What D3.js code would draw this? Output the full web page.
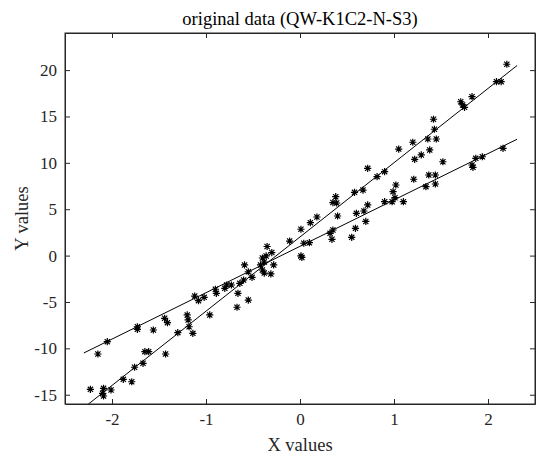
<!DOCTYPE html>
<html>
<head>
<meta charset="utf-8">
<script src="https://cdn.jsdelivr.net/npm/d3@7"></script>
<style>
  body { margin: 0; background: #fff; }
  svg { display: block; font-family: "Liberation Serif", "Times New Roman", serif; }
</style>
</head>
<body>
<div id="chart"></div>
<script>
// scatter points
const xs = [
  -2.23, -2.09, -2.10, -2.09, -2.01, -1.88, -1.79, -1.76, -1.67, -1.65,
  -1.61, -1.43, -2.15, -2.05, -1.73, -1.73, -1.56, -1.44, -1.41, -1.30,
  -1.20, -1.19, -1.18, -1.14, -0.96, -1.12, -1.08, -1.02, -0.90, -0.89,
  -0.80, -0.78, -0.73, -0.66, -0.67, -0.55, -0.64, -0.60, -0.51, -0.55,
  -0.59, -0.40, -0.38, -0.42, -0.40, -0.38, -0.36, -0.28, -0.31, -0.35,
  -0.30, -0.11, 0.01, 0.04, 0.10, 0.01, 0.02, 0.11, 0.18, 0.32,
  0.35, 0.34, 0.40, 0.38, 0.35, 0.39, 0.58, 0.67, 0.72, 0.60,
  0.68, 0.70, 0.59, 0.55, 2.20, 2.09, 2.14, 1.83, 1.71, 1.73,
  1.75, 1.42, 1.43, 1.36, 1.45, 1.20, 1.05, 1.38, 1.29, 1.22,
  1.52, 0.90, 0.82, 0.72, 2.16, 1.94, 1.87, 1.83, 1.84, 1.37,
  1.44, 1.21, 1.44, 1.34, 1.02, 0.99, 1.01, 0.98, 0.90, 1.10
];
const ys = [
  -14.42, -14.31, -14.85, -15.14, -14.49, -13.34, -13.60, -12.04, -11.61, -10.36,
  -10.36, -10.61, -10.61, -9.28, -7.67, -7.95, -8.02, -6.76, -7.23, -8.31,
  -6.40, -6.94, -7.67, -8.38, -6.40, -4.36, -4.86, -4.50, -3.63, -4.07,
  -3.53, -3.17, -3.17, -4.07, -5.57, -4.79, -2.99, -2.63, -2.34, -1.74,
  -1.01, -0.26, -0.69, -1.01, -1.55, -1.88, -0.04, -1.01, -1.98, 0.98,
  0.33, 1.57, 2.84, 1.33, 1.39, -0.04, -0.20, 3.55, 4.16, 2.40,
  2.76, 1.76, 4.27, 6.35, 5.72, 5.67, 6.82, 7.07, 5.46, 4.56,
  4.81, 3.68, 2.94, 1.97, 20.63, 18.75, 18.75, 17.13, 16.59, 16.24,
  15.99, 14.70, 13.62, 12.57, 12.57, 12.22, 11.49, 11.39, 10.85, 10.38,
  10.12, 9.05, 8.51, 9.41, 11.57, 10.66, 10.49, 9.77, 9.52, 8.69,
  8.69, 8.23, 7.72, 7.43, 7.61, 6.89, 6.24, 5.81, 5.81, 5.81
];
// fitted lines (end points)
const lineX = [-2.30, 2.31];
const lineSteepY = [-16.4, 20.5];
const lineFlatY = [-10.5, 12.55];

const xTicks = [-2, -1, 0, 1, 2];
const yTicks = [-15, -10, -5, 0, 5, 10, 15, 20];

const W = 536, H = 454;
const m = { left: 65, right: 1, top: 33, bottom: 50 };

const svg = d3.select("#chart").append("svg")
  .attr("width", W).attr("height", H);

const x = d3.scaleLinear().domain([-2.5, 2.5]).range([m.left, W - m.right]);
const y = d3.scaleLinear().domain([-16, 24]).range([H - m.bottom, m.top]);

svg.append("defs").append("clipPath").attr("id", "plot-clip")
  .append("rect")
  .attr("x", m.left).attr("y", m.top)
  .attr("width", W - m.right - m.left).attr("height", H - m.bottom - m.top);

const axisColor = "#262626";
const tickLen = 5;
const plain = d => String(d);   // plain hyphen, like the original

// bottom / left axes with labels
const gx = svg.append("g")
  .attr("transform", `translate(0,${H - m.bottom})`)
  .call(d3.axisBottom(x).tickValues(xTicks).tickSizeInner(-tickLen).tickSizeOuter(0).tickPadding(9)
    .tickFormat(plain));
const gy = svg.append("g")
  .attr("transform", `translate(${m.left},0)`)
  .call(d3.axisLeft(y).tickValues(yTicks).tickSizeInner(-tickLen).tickSizeOuter(0).tickPadding(8)
    .tickFormat(plain));
// top / right axes: ticks only
const gxt = svg.append("g")
  .attr("transform", `translate(0,${m.top})`)
  .call(d3.axisTop(x).tickValues(xTicks).tickSizeInner(-tickLen).tickSizeOuter(0).tickFormat(""));
const gyr = svg.append("g")
  .attr("transform", `translate(${W - m.right},0)`)
  .call(d3.axisRight(y).tickValues(yTicks).tickSizeInner(-tickLen).tickSizeOuter(0).tickFormat(""));

[gx, gy, gxt, gyr].forEach(g => {
  g.select(".domain").attr("stroke", axisColor);
  g.selectAll(".tick line").attr("stroke", axisColor);
  g.selectAll(".tick text")
    .attr("fill", axisColor)
    .style("font-family", '"Liberation Serif", serif')
    .style("font-size", "17px");
});
gx.selectAll(".tick text").attr("dy", "0.71em");

// fitted lines
const plot = svg.append("g").attr("clip-path", "url(#plot-clip)");
const line = d3.line().x(d => x(d[0])).y(d => y(d[1]));
[lineSteepY, lineFlatY].forEach(ly => {
  plot.append("path")
    .datum(d3.zip(lineX, ly))
    .attr("fill", "none")
    .attr("stroke", "#000")
    .attr("stroke-width", 1)
    .attr("d", line);
});

// asterisk markers
const r = 3.6, rd = 2.6;
const star = `M${-r},0H${r}M0,${-r}V${r}M${-rd},${-rd}L${rd},${rd}M${-rd},${rd}L${rd},${-rd}`;
plot.selectAll(".pt")
  .data(d3.zip(xs, ys))
  .enter()
  .append("path")
  .attr("class", "pt")
  .attr("transform", d => `translate(${x(d[0])},${y(d[1])})`)
  .attr("d", star)
  .attr("fill", "none")
  .attr("stroke", "#000")
  .attr("stroke-width", 1.2);

// frame on top
svg.append("rect")
  .attr("x", m.left).attr("y", m.top)
  .attr("width", W - m.right - m.left).attr("height", H - m.bottom - m.top)
  .attr("fill", "none").attr("stroke", axisColor).attr("stroke-width", 1);

// title and axis labels
svg.append("text")
  .attr("x", (m.left + W - m.right) / 2).attr("y", 25)
  .attr("text-anchor", "middle")
  .attr("fill", "#000")
  .style("font-size", "18.5px")
  .text("original data (QW-K1C2-N-S3)");

svg.append("text")
  .attr("x", (m.left + W - m.right) / 2).attr("y", 451)
  .attr("text-anchor", "middle")
  .attr("fill", axisColor)
  .style("font-size", "18.5px")
  .text("X values");

svg.append("text")
  .attr("transform", `translate(28,${(m.top + H - m.bottom) / 2}) rotate(-90)`)
  .attr("text-anchor", "middle")
  .attr("fill", axisColor)
  .style("font-size", "18.5px")
  .text("Y values");
</script>
</body>
</html>
